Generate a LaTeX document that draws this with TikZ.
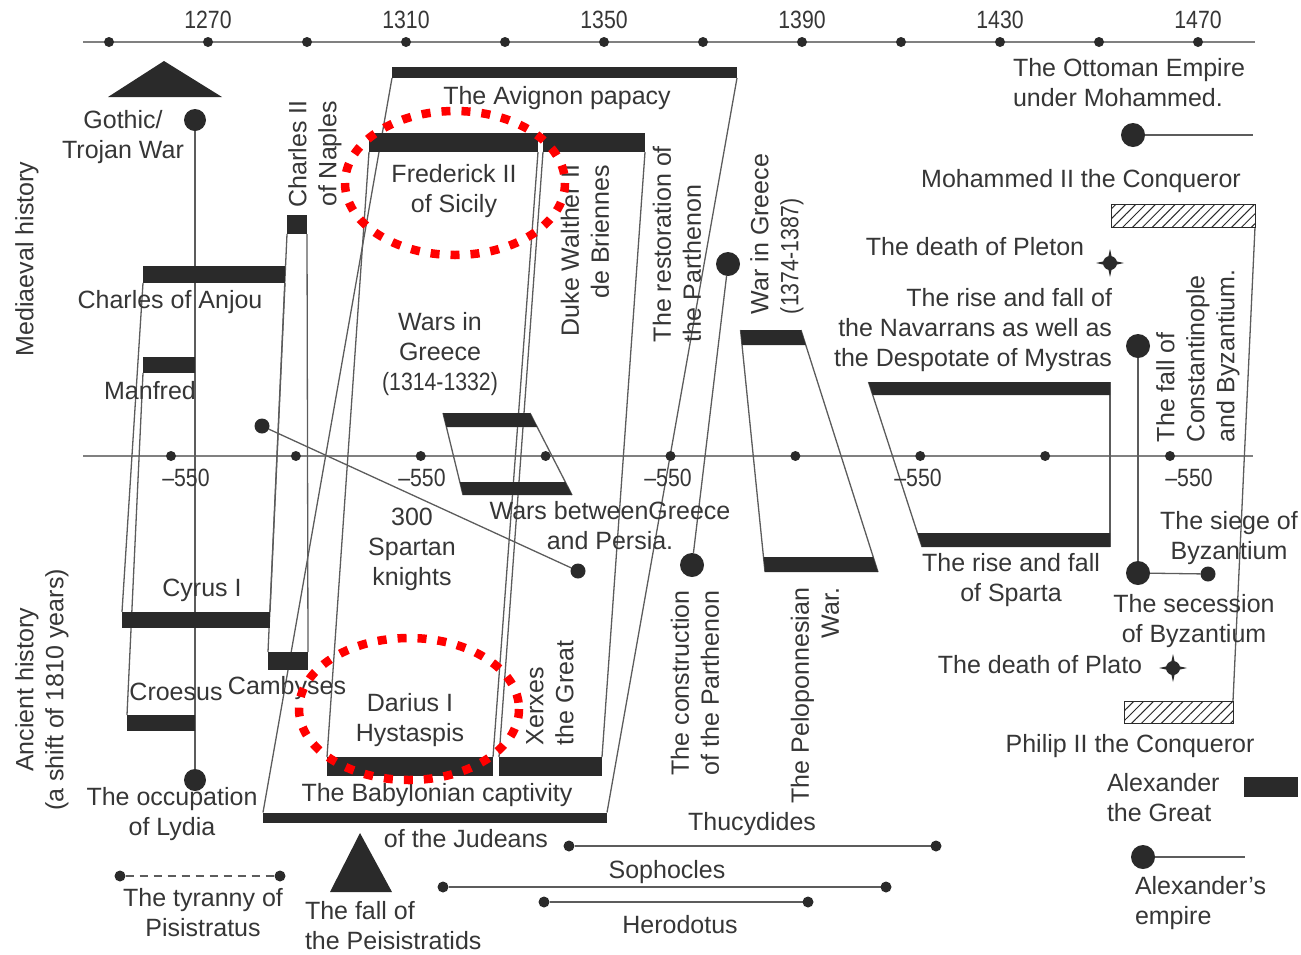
\documentclass[tikz,border=0pt]{standalone}
\usepackage{fontspec}
\setmainfont{Liberation Sans}
\newfontfamily\numf[FakeStretch=0.85]{Liberation Sans}
\usetikzlibrary{patterns.meta}
\pgfdeclarelayer{bg}
\pgfsetlayers{bg,main}
\definecolor{txtc}{HTML}{363636}
\definecolor{barc}{HTML}{2A2A2A}
\definecolor{linec}{HTML}{5C5C5C}
\definecolor{axc}{HTML}{808080}
\definecolor{redc}{HTML}{FF0000}
\begin{document}
\begin{tikzpicture}[x=1pt,y=-1pt,
  lbl/.style={text=txtc,font=\fontsize{25}{30}\selectfont,inner sep=0pt,outer sep=0pt,align=center},
  numlbl/.style={lbl,font=\numf\fontsize{25}{30}\selectfont},
  vlbl/.style={lbl,rotate=90},
  bar/.style={rectangle,fill=barc,draw=none,inner sep=0pt,outer sep=0pt},
  edge/.style={draw=linec,line width=1.3pt},
  axis/.style={draw=axc,line width=2pt},
  tick/.style={circle,fill=barc,inner sep=0pt,outer sep=0pt,minimum size=10pt},
  bigdot/.style={circle,fill=barc,inner sep=0pt,outer sep=0pt,minimum size=24pt},
  smalldot/.style={circle,fill=barc,inner sep=0pt,outer sep=0pt,minimum size=15pt},
  tinydot/.style={circle,fill=barc,inner sep=0pt,outer sep=0pt,minimum size=11pt},
  starcore/.style={circle,fill=barc,inner sep=0pt,outer sep=0pt,minimum size=14pt},
  hatch/.style={rectangle,draw=barc,line width=1pt,inner sep=0pt,outer sep=0pt,
    pattern={Lines[angle=45,distance=7pt,line width=1pt]},pattern color=barc},
  ring/.style={draw=redc,line width=8.5pt,dash pattern=on 9pt off 11pt},
]
\useasboundingbox (0,0) rectangle (1301,954);

% ---------- axes ----------
\coordinate (ta0) at (83,42); \coordinate (ta1) at (1255,42);
\coordinate (ma0) at (83,456); \coordinate (ma1) at (1253,456);
\foreach \i in {0,...,11} \node[tick] (t\i) at ({109+99*\i},42) {};
\foreach \i in {0,...,8} \node[tick] (m\i) at ({171+124.875*\i},456) {};
\node[numlbl] (y1270) at (208,20) {1270};
\node[numlbl] (y1310) at (406,20) {1310};
\node[numlbl] (y1350) at (604,20) {1350};
\node[numlbl] (y1390) at (802,20) {1390};
\node[numlbl] (y1430) at (1000,20) {1430};
\node[numlbl] (y1470) at (1198,20) {1470};
\node[numlbl] (a1) at (186,478) {–550};
\node[numlbl] (a2) at (422,478) {–550};
\node[numlbl] (a3) at (668,478) {–550};
\node[numlbl] (a4) at (918,478) {–550};
\node[numlbl] (a5) at (1189,478) {–550};

% ---------- rectangular bars ----------
\node[bar,minimum width=345,minimum height=11] (avignon) at (564.5,72.5) {};
\node[bar,minimum width=169,minimum height=19] (frederick) at (453.5,142.5) {};
\node[bar,minimum width=102,minimum height=19] (duke) at (594,142.5) {};
\node[bar,minimum width=20,minimum height=19] (charlesII) at (297,224.5) {};
\node[bar,minimum width=142,minimum height=17] (anjou) at (214,274.5) {};
\node[bar,minimum width=52,minimum height=16] (manfred) at (169,365) {};
\node[bar,minimum width=148,minimum height=16] (cyrus) at (196,620) {};
\node[bar,minimum width=40,minimum height=18] (cambyses) at (288,661) {};
\node[bar,minimum width=68,minimum height=16] (croesus) at (161,723) {};
\node[bar,minimum width=166,minimum height=19] (darius) at (410,766.5) {};
\node[bar,minimum width=103,minimum height=19] (xerxes) at (550.5,766.5) {};
\node[bar,minimum width=344,minimum height=10] (babylon) at (435,817.5) {};
\node[bar,minimum width=54,minimum height=20] (alexbar) at (1271,787) {};
\node[hatch,minimum width=144,minimum height=23] (mohbar) at (1183,215.5) {};
\node[hatch,minimum width=109,minimum height=22] (philbar) at (1178.5,712) {};

% ---------- slanted bars ----------
\coordinate (wgA) at (443,413); \coordinate (wgB) at (530,413);
\coordinate (wgC) at (572,495); \coordinate (wgD) at (463,495);
\fill[barc] (wgA) -- (wgB) -- (537.2,427) -- (446.4,427) -- cycle;
\fill[barc] (459.8,482) -- (565.3,482) -- (wgC) -- (wgD) -- cycle;
\coordinate (grA) at (740.5,330); \coordinate (grB) at (801,330);
\coordinate (grC) at (878,572); \coordinate (grD) at (765,572);
\fill[barc] (grA) -- (grB) -- (805.8,345) -- (742,345) -- cycle;
\fill[barc] (763.5,557) -- (873.2,557) -- (grC) -- (grD) -- cycle;
\coordinate (nvA) at (868.5,382); \coordinate (nvB) at (1110,382);
\coordinate (nvC) at (1110,547); \coordinate (nvD) at (922,547);
\fill[barc] (nvA) -- (nvB) -- (1110,395) -- (872.7,395) -- cycle;
\fill[barc] (917.5,533) -- (1110,533) -- (nvC) -- (nvD) -- cycle;

% ---------- triangles ----------
\fill[barc] (164,61) -- (222,97) -- (108,97) -- cycle;
\fill[barc] (360,833) -- (392,892) -- (330,892) -- cycle;

% ---------- dots ----------
\node[bigdot,minimum size=22pt] (gothicdot) at (195,120) {};
\node[bigdot,minimum size=22pt] (lydiadot) at (195,780) {};
\node[smalldot] (sp1) at (262,426) {};
\node[smalldot] (sp2) at (578,571) {};
\node[bigdot] (restdot) at (728,264) {};
\node[bigdot] (constrdot) at (692,565) {};
\node[bigdot] (ottdot) at (1133,135) {};
\coordinate (ottend) at (1253,135);
\node[bigdot] (fallA) at (1138,346) {};
\node[bigdot] (fallB) at (1138,573) {};
\node[smalldot] (siegedot) at (1208,574) {};
\node[bigdot] (empdot) at (1143,857) {};
\coordinate (empend) at (1245,857);
\node[tinydot] (ty1) at (120,876) {};
\node[tinydot] (ty2) at (280,876) {};
\node[tinydot] (th1) at (569,846) {};
\node[tinydot] (th2) at (936,846) {};
\node[tinydot] (so1) at (443,887) {};
\node[tinydot] (so2) at (886,887) {};
\node[tinydot] (he1) at (544,902) {};
\node[tinydot] (he2) at (808,902) {};
% star markers
\node[starcore] (pleton) at (1110,263) {};
\fill[barc,shift={(pleton.center)}] (14,0) -- (2.5,2.5) -- (0,14) -- (-2.5,2.5) -- (-14,0) -- (-2.5,-2.5) -- (0,-14) -- (2.5,-2.5) -- cycle;
\node[starcore] (plato) at (1173,668) {};
\fill[barc,shift={(plato.center)}] (14,0) -- (2.5,2.5) -- (0,14) -- (-2.5,2.5) -- (-14,0) -- (-2.5,-2.5) -- (0,-14) -- (2.5,-2.5) -- cycle;

% ---------- connectors (behind) ----------
\begin{pgfonlayer}{bg}
\draw[axis] (ta0) -- (ta1);
\draw[axis] (ma0) -- (ma1);
\draw[edge] (avignon.south west) -- (babylon.north west);
\draw[edge] (avignon.south east) -- (babylon.north east);
\draw[edge] (frederick.south west) -- (darius.north west);
\draw[edge] (frederick.south east) -- (darius.north east);
\draw[edge] (duke.south west) -- (xerxes.north west);
\draw[edge] (duke.south east) -- (xerxes.north east);
\draw[edge] (charlesII.south west) -- (cambyses.north west);
\draw[edge] (charlesII.south east) -- (cambyses.north east);
\draw[edge] (anjou.south west) -- (cyrus.north west);
\draw[edge] (anjou.south east) -- (cyrus.north east);
\draw[edge] (manfred.south west) -- (croesus.north west);
\draw[edge] (manfred.south east) -- (croesus.north east);
\draw[edge] (mohbar.south east) -- (philbar.north east);
\draw[edge] (wgA) -- (wgD);
\draw[edge] (wgB) -- (wgC);
\draw[edge] (grA) -- (grD);
\draw[edge] (grB) -- (grC);
\draw[edge] (nvA) -- (nvD);
\draw[edge] (nvB) -- (nvC);
\draw[edge] (gothicdot) -- (lydiadot);
\draw[edge] (sp1) -- (sp2);
\draw[edge] (restdot) -- (constrdot);
\draw[edge] (ottdot) -- (ottend);
\draw[edge] (fallA) -- (fallB);
\draw[edge] (fallB) -- (siegedot);
\draw[edge] (empdot) -- (empend);
\draw[edge] (th1) -- (th2);
\draw[edge] (so1) -- (so2);
\draw[edge] (he1) -- (he2);
\draw[edge,dash pattern=on 8pt off 6pt] (ty1) -- (ty2);
\end{pgfonlayer}

% ---------- labels ----------
\node[vlbl] (mediaeval) at (27,259) {Mediaeval history};
\node[vlbl] (ancient) at (42,690) {Ancient history\\(a shift of 1810 years)};
\node[lbl] (gothicl) at (123,137) {Gothic/\\Trojan War};
\node[lbl] (avignonl) at (557,98) {The Avignon papacy};
\node[lbl] (frederickl) at (454,191) {Frederick II\\of Sicily};
\node[vlbl] (charlesIIl) at (315,154) {Charles II\\of Naples};
\node[vlbl,anchor=east,align=right] (dukel) at (585,165) {Duke Walther II\\de Briennes};
\node[vlbl,anchor=west,align=left] (restl) at (677,342) {The restoration of\\the Parthenon};
\node[vlbl,anchor=west,align=left] (wargrl) at (777,314) {War in Greece\\{\numf (1374-1387)}};
\node[lbl,anchor=west,align=left] (ottomanl) at (1013,83) {The Ottoman Empire\\under Mohammed.};
\node[lbl] (mohl) at (1081,181) {Mohammed II the Conqueror};
\node[lbl] (pletonl) at (975,247) {The death of Pleton};
\node[lbl,anchor=east,align=right] (navl) at (1112,330) {The rise and fall of\\the Navarrans as well as\\the Despotate of Mystras};
\node[lbl] (anjoul) at (170,302) {Charles of Anjou};
\node[lbl] (manfredl) at (150,391) {Manfred};
\node[lbl] (wgl) at (440,354) {Wars in\\Greece\\{\numf (1314-1332)}};
\node[vlbl,anchor=west,align=left] (fallcl) at (1198,442) {The fall of\\Constantinople\\and Byzantium.};
\node[lbl] (spartanl) at (412,549) {300\\Spartan\\knights};
\node[lbl] (wbgl) at (610,526) {Wars betweenGreece\\and Persia.};
\node[lbl] (cyrusl) at (202,590) {Cyrus I};
\node[vlbl] (constrl) at (695,683) {The construction\\of the Parthenon};
\node[vlbl,anchor=east,align=right] (pelol) at (815,588) {The Peloponnesian\\War.};
\node[lbl] (spartal) at (1011,580) {The rise and fall\\of Sparta};
\node[lbl] (siegel) at (1229,538) {The siege of\\Byzantium};
\node[lbl] (secessl) at (1194,621) {The secession\\of Byzantium};
\node[lbl] (platol) at (1040,665) {The death of Plato};
\node[lbl] (croesusl) at (176,692) {Croesus};
\node[lbl] (cambysesl) at (287,688) {Cambyses};
\node[lbl] (dariusl) at (410,720) {Darius I\\Hystaspis};
\node[vlbl,anchor=west,align=left] (xerxesl) at (550,745) {Xerxes\\the Great};
\node[lbl] (philipl) at (1130,746) {Philip II the Conqueror};
\node[lbl,anchor=west,align=left] (alexl) at (1107,798) {Alexander\\the Great};
\node[lbl] (babl1) at (437,795) {The Babylonian captivity};
\node[lbl] (babl2) at (466,839) {of the Judeans};
\node[lbl] (lydial) at (172,814) {The occupation\\of Lydia};
\node[lbl] (thucl) at (752,824) {Thucydides};
\node[lbl] (sophl) at (667,872) {Sophocles};
\node[lbl] (herol) at (680,925) {Herodotus};
\node[lbl] (tyrl) at (203,913) {The tyranny of\\Pisistratus};
\node[lbl,anchor=west,align=left] (peisl) at (305,926) {The fall of\\the Peisistratids};
\node[lbl,anchor=west,align=left] (alexempl) at (1135,903) {Alexander’s\\empire};

% ---------- red highlight rings ----------
\draw[ring] (455,183) ellipse [x radius=110, y radius=72];
\draw[ring] (409,709) ellipse [x radius=110, y radius=71];
\end{tikzpicture}
\end{document}
